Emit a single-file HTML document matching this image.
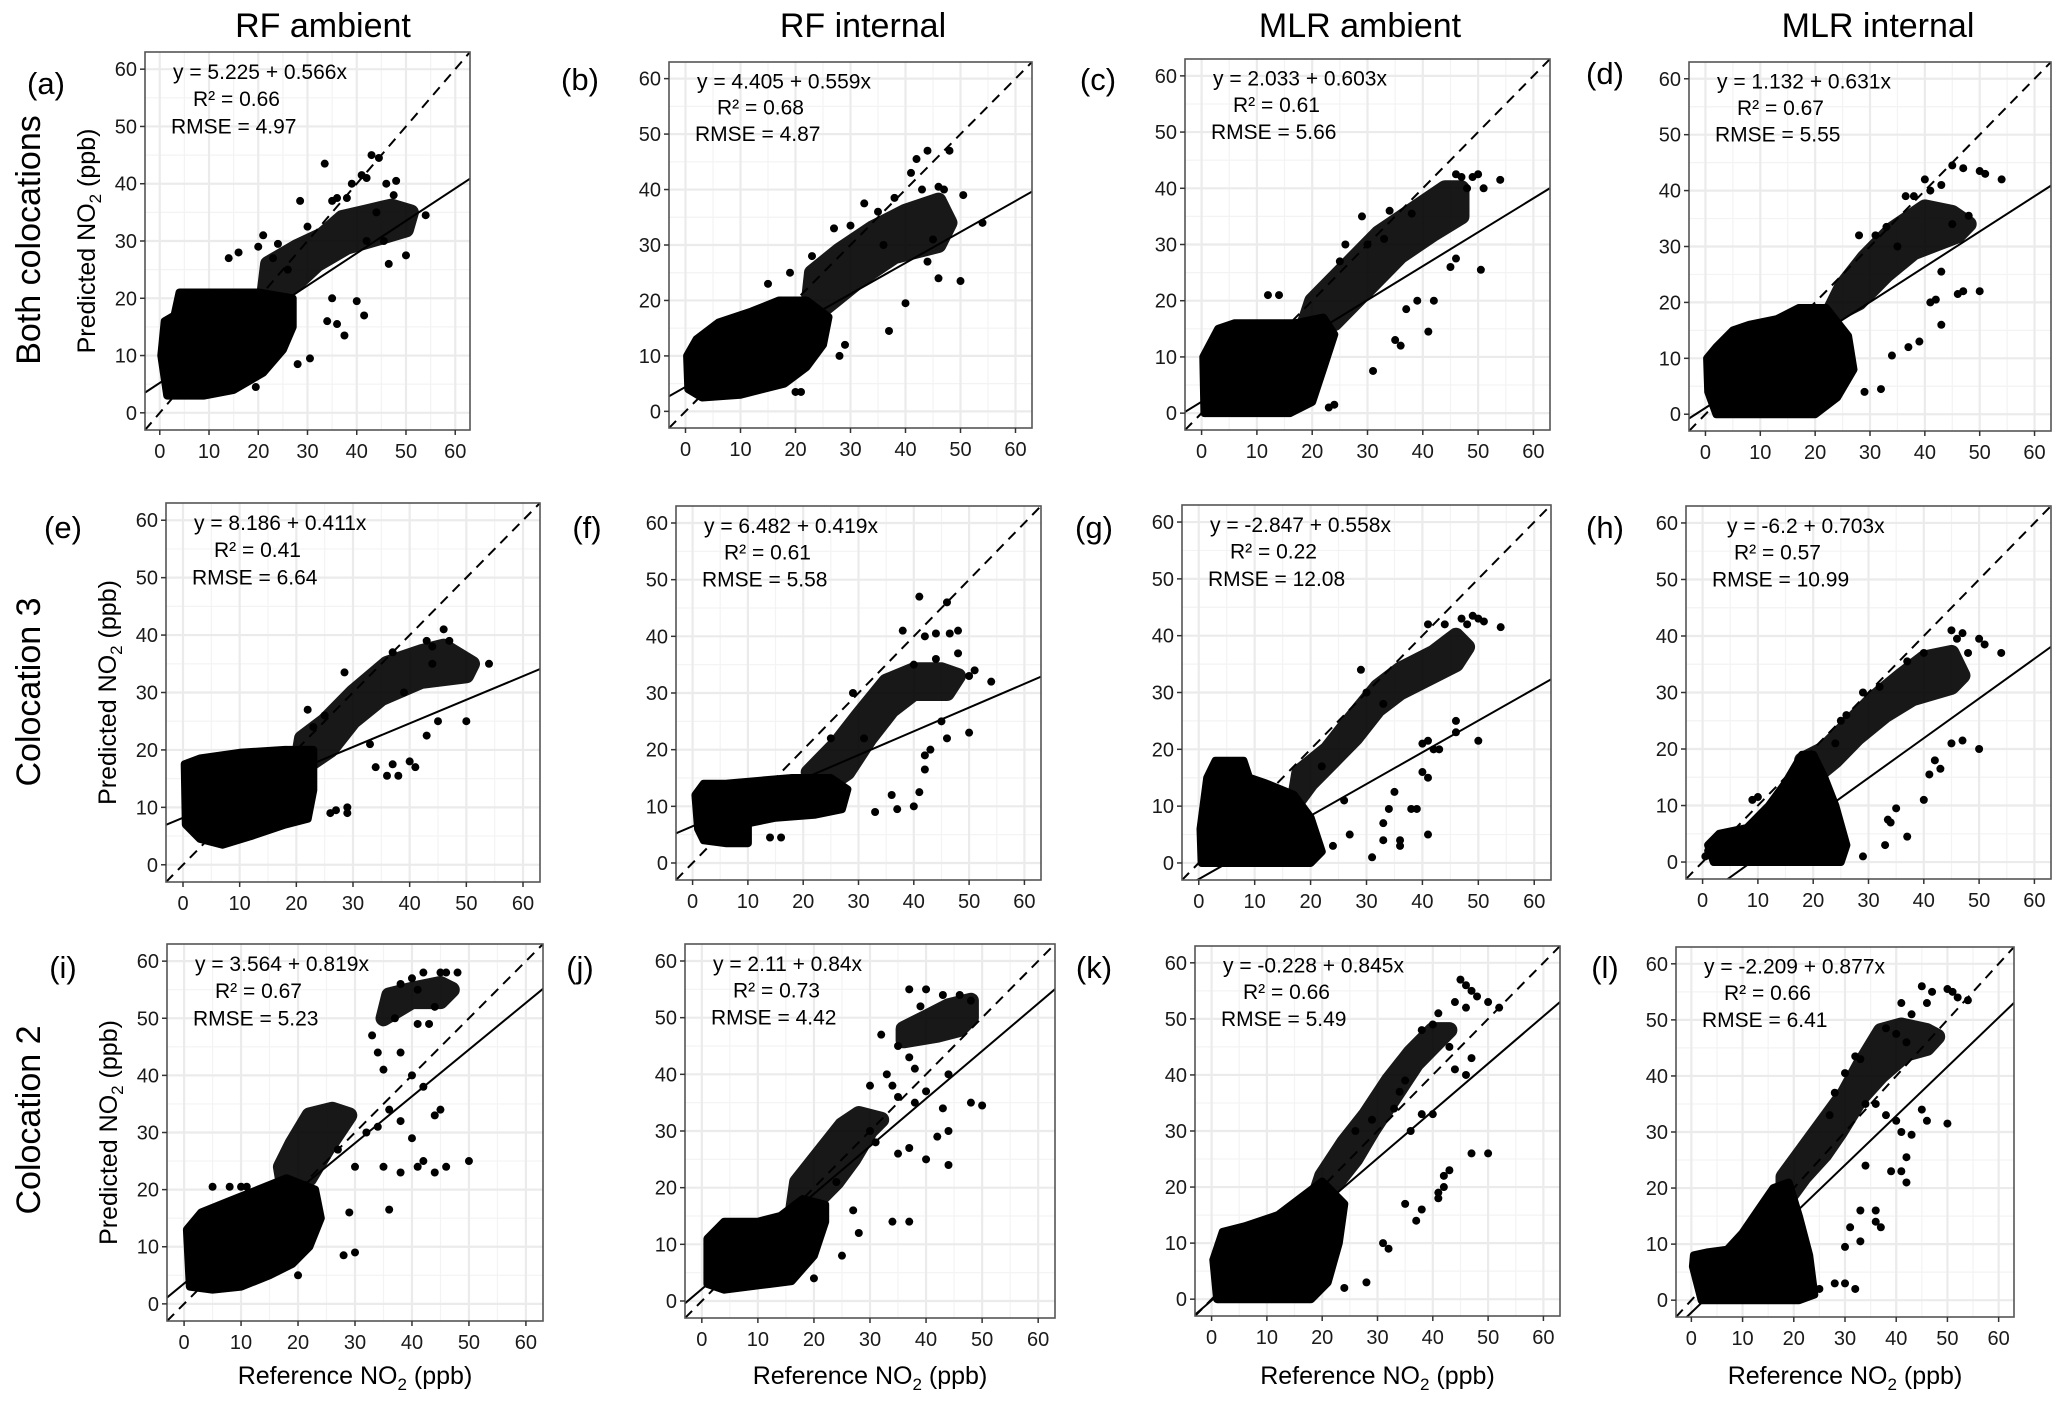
<!DOCTYPE html>
<html><head><meta charset="utf-8"><style>
html,body{margin:0;padding:0;background:#fff;}
svg{display:block;font-family:"Liberation Sans",Arial,sans-serif;}
</style></head><body>
<svg id="fig" width="2067" height="1405" viewBox="0 0 2067 1405" xmlns="http://www.w3.org/2000/svg">
<rect x="0" y="0" width="2067" height="1405" fill="#fff"/>
<text x="323" y="37" font-size="34" text-anchor="middle">RF ambient</text>
<text x="863" y="37" font-size="34" text-anchor="middle">RF internal</text>
<text x="1360" y="37" font-size="34" text-anchor="middle">MLR ambient</text>
<text x="1878" y="37" font-size="34" text-anchor="middle">MLR internal</text>
<text transform="translate(40,240) rotate(-90)" font-size="34" text-anchor="middle">Both colocations</text>
<text transform="translate(40,692) rotate(-90)" font-size="34" text-anchor="middle">Colocation 3</text>
<text transform="translate(40,1120) rotate(-90)" font-size="34" text-anchor="middle">Colocation 2</text>
</svg>
<script>
// ---- data (data units: reference NO2 on x, predicted NO2 on y) ----
const tickValues = [0,10,20,30,40,50,60];
const panelIds = ["a","b","c","d","e","f","g","h","i","j","k","l"];
const intercepts = [5.225,4.405,2.033,1.132,8.186,6.482,-2.847,-6.2,3.564,2.11,-0.228,-2.209];
const slopes = [0.566,0.559,0.603,0.631,0.411,0.419,0.558,0.703,0.819,0.84,0.845,0.877];
const eqLabels = ["y = 5.225 + 0.566x","y = 4.405 + 0.559x","y = 2.033 + 0.603x","y = 1.132 + 0.631x","y = 8.186 + 0.411x","y = 6.482 + 0.419x","y = -2.847 + 0.558x","y = -6.2 + 0.703x","y = 3.564 + 0.819x","y = 2.11 + 0.84x","y = -0.228 + 0.845x","y = -2.209 + 0.877x"];
const r2Labels = ["R² = 0.66","R² = 0.68","R² = 0.61","R² = 0.67","R² = 0.41","R² = 0.61","R² = 0.22","R² = 0.57","R² = 0.67","R² = 0.73","R² = 0.66","R² = 0.66"];
const rmseLabels = ["RMSE = 4.97","RMSE = 4.87","RMSE = 5.66","RMSE = 5.55","RMSE = 6.64","RMSE = 5.58","RMSE = 12.08","RMSE = 10.99","RMSE = 5.23","RMSE = 4.42","RMSE = 5.49","RMSE = 6.41"];

const coreA=[[1.5,3],[9,3],[15,4],[21,7],[25,11],[27,15],[27,20],[20,21],[12,21],[4,21],[3,17],[1,16],[0.3,10]];
const bandA=[[21,19],[27,22],[32,26],[38,29],[46,31],[50,32],[51,35],[47,36],[42,35],[37,34],[33,31],[28,29],[22,26]];
const ptsA=[[33.5,43.5],[43,45],[44.5,44.5],[41,41.5],[42,41],[46,40],[48,40.5],[47.5,38],[39,40],[36,37.5],[35,37],[38,37.5],[28.5,37],[54,34.5],[50,27.5],[46.5,26],[45.5,30],[41.5,17],[37.5,13.5],[36,15.5],[34,16],[30.5,9.5],[28,8.5],[19.5,4.5],[14,27],[16,28],[21,31],[20,29],[24,29.5],[30,32.5],[35,20],[40,19.5],[42,30],[44,35],[26,25],[23,27]];
const coreB=[[0.5,4],[3,2.5],[10,3],[18,5],[22,8],[25,12],[26,17],[22,20],[17,20],[12,18],[6,16],[2,13],[0.3,10]];
const bandB=[[22,16],[27,20],[32,24],[38,28],[46,30],[48,34],[46,38],[40,36],[34,33],[28,29],[23,25]];
const ptsB=[[42,45.5],[44,47],[48,47],[41,43],[43,40],[46,40.5],[47,40],[50.5,39],[38,38.5],[32.5,37.5],[30,33.5],[27,33],[54,34],[50,23.5],[46,24],[40,19.5],[37,14.5],[28,10],[29,12],[21,3.5],[20,3.5],[35,36],[36,30],[44,27],[23,28],[15,23],[19,25],[45,31]];
const coreC=[[0.5,0],[10,0],[16,0],[20,2],[22,8],[24,14],[22,17],[17,16],[12,16],[6,16],[3,15],[0.3,10]];
const bandC=[[18,14],[24,16],[30,22],[36,28],[42,32],[47,35],[47,40],[44,40],[38,36],[32,32],[26,26],[20,20]];
const ptsC=[[46,42.5],[47,42],[49,42],[50,42.5],[48,40],[54,41.5],[51,40],[29,35],[30,30],[33,31],[46,27.5],[50.5,25.5],[45,26],[41,14.5],[36,12],[35,13],[31,7.5],[23,1],[24,1.5],[42,20],[37,18.5],[39,20],[26,30],[25,27],[34,36],[38,35.5],[14,21],[12,21]];
const coreD=[[2,0],[20,0],[24,3],[27,8],[26,14],[22,19],[17,19],[13,17],[8,16],[5,15],[2,12],[0.3,10],[0.5,4]];
const bandD=[[22,17],[28,20],[33,25],[38,29],[46,32],[48,34],[45,36],[40,37],[34,33],[29,28],[25,23]];
const ptsD=[[45,44.5],[47,44],[50,43.5],[51,43],[54,42],[43,41],[41,40],[38,39],[40,42],[36.5,39],[33,33.5],[35,30],[31,32],[28,32],[29,4],[32,4.5],[34,10.5],[37,12],[39,13],[43,16],[41,20],[42,20.5],[46,21.5],[47,22],[50,22],[43,25.5],[48,35.5],[45,34]];
const coreE=[[0.5,7],[3,4.5],[7,3.5],[12,5],[18,7],[22,8],[23,13],[23,20],[18,20],[10,19.5],[3,18.5],[0.3,17.5]];
const bandE=[[20,16],[26,20],[30,25],[35,29],[42,32],[50,33],[51,35],[46,38],[42,37],[36,35],[30,30],[25,25],[21,22]];
const ptsE=[[46,41],[43,39],[47,39],[44,38],[37,37],[28.5,33.5],[54,35],[50,25],[45,25],[43,22.5],[41,17],[40,18],[37,17.5],[36,15.5],[38,15.5],[29,10],[29,9],[27,9.5],[26,9],[22,27],[25,26],[23,24],[33,21],[34,17],[39,30],[44,35]];
const coreF=[[1,6],[2,4],[6,3.5],[10,3.5],[10,7],[15,8],[22,8.5],[27,9.5],[28,13],[25,15],[18,15],[12,14.5],[6,14],[2,14],[0.5,12]];
const bandF=[[22,12],[28,16],[32,22],[36,27],[40,30],[46,30],[48,33],[45,34],[40,34],[35,32],[30,26],[26,21],[21,16]];
const ptsF=[[41,47],[46,46],[38,41],[42,40],[44,40.5],[46.5,40.5],[48,41],[48,37],[40,35],[44,36],[50,33],[51,34],[54,32],[50,23],[46,22],[45,25],[42,19],[42,16.5],[43,20],[41,12.5],[40,10],[37,9.5],[36,12],[33,9],[31,22],[29,30],[16,4.5],[14,4.5],[25,22]];
const coreG=[[0.5,0],[15,0],[20,0],[22,2],[20,8],[17,12],[12,14],[9,15],[8,18],[3,18],[1.5,15],[0.3,6]];
const bandG=[[17,10],[20,14],[24,18],[28,22],[32,27],[36,30],[42,33],[46,35],[48,38],[46,40],[42,37],[36,34],[32,31],[27,25],[23,20],[18,16]];
const ptsG=[[49,43.5],[50,43],[51,42.5],[54,41.5],[47,43],[44,42],[41,42],[48,42],[29,34],[30,30],[33,28],[46,25],[50,21.5],[46,23],[40,21],[41,21.5],[42,20],[43,20],[40,16],[41,15],[41,5],[36,3],[36,4],[33,7],[33,4],[31,1],[38,9.5],[34,9.5],[35,12.5],[39,9.5],[26,11],[27,5],[24,3],[22,17]];
const coreH=[[2,0],[20,0],[25,0],[26,3],[24,10],[22,15],[20,19],[18,19],[15,14],[12,10],[8,6],[3,5],[1,3]];
const bandH=[[19,14],[24,18],[28,22],[33,26],[38,29],[45,31],[47,33],[45,37],[40,36],[36,33],[31,29],[26,24],[22,20],[18,18]];
const ptsH=[[45,41],[47,40.5],[46,39.5],[50,39.5],[51,38.5],[54,37],[48,37],[40,37],[37,35.5],[32,31],[29,30],[26,26],[25,25],[50,20],[45,21],[47,21.5],[42,18],[41,15.5],[43,16.5],[40,11],[37,4.5],[35,9.5],[34,7],[33,3],[33.5,7.5],[29,1],[24,21],[10,11.5],[9,11],[1,2],[0.5,1]];
const coreI=[[1,3],[5,2.5],[10,3],[15,5],[19,7],[22,10],[24,15],[23,20],[18,22],[13,20],[8,18],[3,16],[0.5,13]];
const bandI=[[18,18],[22,22],[25,27],[29,33],[26,34],[22,33],[19,28],[17,24]];
const band2I=[[35,50],[40,53],[45,53],[47,55],[45,56],[40,55],[36,54]];
const ptsI=[[5,20.5],[8,20.5],[10,20.5],[11,20.5],[42,58],[45,58],[46,58],[48,58],[38,56],[40,57],[41,55],[44,52],[37,50],[41,49],[43,49],[33,47],[34,44],[38,44],[35,41],[40,40],[42,38],[45,34],[44,33],[36,34],[38,32],[40,29],[42,25],[44,23],[46,24],[50,25],[41,24],[38,23],[35,24],[30,24],[29,16],[36,16.5],[30,9],[28,8.5],[20,5],[27,27],[32,30],[34,31]];
const coreJ=[[1,3],[4,2],[12,3],[16,3.5],[20,8],[22,14],[22,17],[18,18],[14,15],[10,14],[4,14],[1,11]];
const bandJ=[[16,14],[20,17],[24,21],[27,25],[30,30],[32,32],[28,33],[25,31],[21,26],[17,21]];
const band2J=[[36,46],[42,47],[46,48],[48,50],[48,53],[44,52],[40,50],[36,48]];
const ptsJ=[[37,55],[40,55],[43,54],[46,54],[48,53],[39,52],[32,47],[35,45],[37,43],[38,41],[33,40],[30,38],[34,38],[35,36],[38,35],[40,37],[43,34],[44,30],[48,35],[50,34.5],[42,29],[44,24],[40,25],[37,27],[35,26],[34,14],[37,14],[28,12],[27,16],[24,21],[25,8],[20,4],[30,30],[31,28],[44,40]];
const coreK=[[1,0],[12,0],[18,0],[21,3],[23,10],[24,17],[20,21],[16,18],[12,15],[6,13],[2,12],[0.3,7]];
const bandK=[[18,16],[22,20],[26,25],[29,30],[33,36],[37,42],[41,46],[43,48],[40,48],[36,44],[32,39],[28,33],[24,28],[20,22]];
const ptsK=[[45,57],[46,56],[47,55],[48,54],[46,52],[44,53],[50,53],[52,52],[41,51],[40,49],[38,48],[43,45],[44,41],[46,40],[47,43],[35,39],[34,37],[33,34],[29,32],[26,30],[38,33],[36,30],[40,33],[42,20],[42,22],[43,23],[47,26],[50,26],[41,18],[41,19],[37,14],[38,16],[35,17],[32,9],[31,10],[28,3],[24,2]];
const coreL=[[0.5,8],[0.3,6],[2,0],[15,0],[21,0],[24,1],[23,8],[21,15],[19,21],[16,20],[13,16],[10,12],[7,9],[3,8.5]];
const bandL=[[18,17],[22,22],[26,26],[29,30],[33,36],[37,40],[42,44],[46,45],[48,47],[46,48],[41,49],[37,48],[33,42],[30,37],[26,32],[22,27],[18,22]];
const ptsL=[[45,56],[47,55],[50,55.5],[51,55],[52,54],[54,53.5],[46,53],[41,53],[43,51],[38,48.5],[40,47.5],[42,46],[32,43.5],[33,43],[30,40.5],[28,37],[27,33],[34,35],[36,35],[38,33],[40,32],[41,30],[43,29.5],[45,34],[46,32],[50,31.5],[42,25.5],[42,21],[41,23],[39,23],[36,16],[36,14],[37,13],[34,24],[33,16],[33,10.5],[31,13],[30,9.5],[32,2],[30,3],[28,3],[25,2]];

const coreSets=[coreA,coreB,coreC,coreD,coreE,coreF,coreG,coreH,coreI,coreJ,coreK,coreL];
const bandSets=[[bandA],[bandB],[bandC],[bandD],[bandE],[bandF],[bandG],[bandH],[bandI,band2I],[bandJ,band2J],[bandK],[bandL]];
const pointSets=[ptsA,ptsB,ptsC,ptsD,ptsE,ptsF,ptsG,ptsH,ptsI,ptsJ,ptsK,ptsL];

// ---- layout (pixels) ----
const boxes=[[145,52,470,430],[669,62,1032,428],[1185,59,1550,430],[1689,62,2051,431],
 [166,503,540,882],[676,506,1041,880],[1182,505,1551,880],[1686,506,2051,879],
 [167,944,543,1321],[685,944,1055,1318],[1195,946,1560,1316],[1676,947,2014,1317]];
const labelPos=[[46,94],[580,90],[1098,90],[1605,84],[63,538],[587,538],[1094,538],[1605,538],[63,978],[580,978],[1094,978],[1605,978]];
const DMIN=-3, DMAX=63;
const NS="http://www.w3.org/2000/svg";
const svg=document.getElementById("fig");
function mk(tag,attrs,parent){const e=document.createElementNS(NS,tag);for(const k in attrs)e.setAttribute(k,attrs[k]);(parent||svg).appendChild(e);return e;}

panelIds.forEach((id,p)=>{
  const [L,T,R,B]=boxes[p];
  const sx=v=>L+(v-DMIN)/(DMAX-DMIN)*(R-L);
  const sy=v=>B-(v-DMIN)/(DMAX-DMIN)*(B-T);
  const g=mk("g",{});
  
  
  const clipId="clip"+id;
  const cp=mk("clipPath",{id:clipId},g);
  mk("rect",{x:L,y:T,width:R-L,height:B-T},cp);
  for(let v=5;v<=60;v+=10){
    const m1=mk("line",{x1:sx(v),x2:sx(v),y1:T,y2:B,stroke:"#f3f3f3","stroke-width":1.2},g);
    
    
    const m2=mk("line",{x1:L,x2:R,y1:sy(v),y2:sy(v),stroke:"#f3f3f3","stroke-width":1.2},g);
    
    
  }
  tickValues.forEach(v=>{
    const gx=mk("line",{x1:sx(v),x2:sx(v),y1:T,y2:B,stroke:"#ebebeb","stroke-width":2.2},g);
    
    
    const gy=mk("line",{x1:L,x2:R,y1:sy(v),y2:sy(v),stroke:"#ebebeb","stroke-width":2.2},g);
    
    
  });
  const plot=mk("g",{"clip-path":"url(#"+clipId+")"},g);
  const poly=pts=>pts.map(q=>sx(q[0]).toFixed(1)+","+sy(q[1]).toFixed(1)).join(" ");
  const bg=mk("g",{opacity:0.9},plot);
  bandSets[p].forEach(bd=>{
    const b=mk("polygon",{points:poly(bd),fill:"#000",stroke:"#000","stroke-width":16,"stroke-linejoin":"round"},bg);
    
    
  });
  const c=mk("polygon",{points:poly(coreSets[p]),fill:"#000",stroke:"#000","stroke-width":8,"stroke-linejoin":"round"},plot);
  
  
  pointSets[p].forEach(q=>{
    const d=mk("circle",{cx:sx(q[0]),cy:sy(q[1]),r:4,fill:"#000"},plot);
    
    
  });
  const dl=mk("line",{x1:sx(DMIN),y1:sy(DMIN),x2:sx(DMAX),y2:sy(DMAX),stroke:"#000","stroke-width":2,"stroke-dasharray":"10 7"},plot);
  
  
  const a=intercepts[p], s=slopes[p];
  const rl=mk("line",{x1:sx(DMIN),y1:sy(a+s*DMIN),x2:sx(DMAX),y2:sy(a+s*DMAX),stroke:"#000","stroke-width":2},plot);
  
  
  const fr=mk("rect",{x:L,y:T,width:R-L,height:B-T,fill:"none",stroke:"#555","stroke-width":1.6},g);
  
  
  tickValues.forEach(v=>{
    mk("line",{x1:L-5,x2:L,y1:sy(v),y2:sy(v),stroke:"#333","stroke-width":1.5},g);
    mk("line",{x1:sx(v),x2:sx(v),y1:B,y2:B+5,stroke:"#333","stroke-width":1.5},g);
    const ty=mk("text",{x:L-8,y:sy(v)+7,"font-size":20,"text-anchor":"end",fill:"#1a1a1a"},g);
    ty.textContent=String(v);
    
    
    const tx=mk("text",{x:sx(v),y:B+28,"font-size":20,"text-anchor":"middle",fill:"#1a1a1a"},g);
    tx.textContent=String(v);
    
    
  });
  const off1=(id==="h")?41:28;
  const e1=mk("text",{x:L+off1,y:sy(59.5)+7,"font-size":21},g);
  e1.textContent=eqLabels[p];
  
  
  const e2=mk("text",{x:L+48,y:sy(54.8)+7,"font-size":21},g);
  e2.textContent=r2Labels[p];
  
  
  const e3=mk("text",{x:L+26,y:sy(50)+7,"font-size":21},g);
  e3.textContent=rmseLabels[p];
  
  
  const pl=mk("text",{x:labelPos[p][0],y:labelPos[p][1],"font-size":31,"text-anchor":"middle"},g);
  pl.textContent="("+id+")";
  
  
  if(p%4===0){
    const yt=mk("text",{transform:"translate("+(L-50)+","+((T+B)/2)+") rotate(-90)","font-size":25,"text-anchor":"middle"},g);
    yt.innerHTML='Predicted NO<tspan font-size="17" dy="6">2</tspan><tspan dy="-6"> (ppb)</tspan>';
    
    
  }
  if(p>=8){
    const xt=mk("text",{x:(L+R)/2,y:1384,"font-size":25,"text-anchor":"middle"},g);
    xt.innerHTML='Reference NO<tspan font-size="17" dy="6">2</tspan><tspan dy="-6"> (ppb)</tspan>';
    
    
  }
});
</script>
</body></html>
